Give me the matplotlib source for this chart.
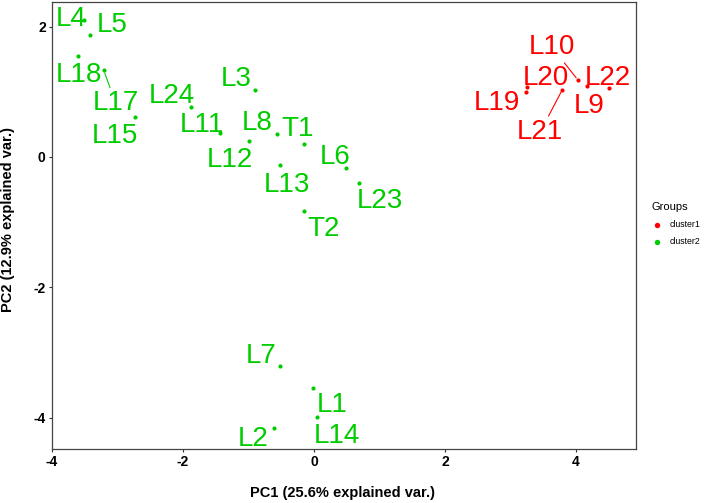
import matplotlib
matplotlib.use("Agg")
import matplotlib.pyplot as plt

plt.rcParams['font.family'] = ['Liberation Sans', 'DejaVu Sans']

# PCA scores
names = ['L4', 'L5', 'L18', 'L17', 'L15', 'L24', 'L11', 'L3', 'L12', 'L8', 'T1', 'L13',
         'L6', 'L23', 'T2', 'L19', 'L20', 'L21', 'L10', 'L9', 'L22', 'L7', 'L1', 'L14', 'L2']
pc1 = [-3.51, -3.42, -3.60, -3.21, -2.73, -1.88, -1.44, -0.90, -0.99, -0.56, -0.15, -0.52,
       0.49, 0.69, -0.15, 3.24, 3.25, 3.79, 4.03, 4.17, 4.50, -0.52, -0.02, 0.05, -0.61]
pc2 = [2.10, 1.87, 1.55, 1.33, 0.61, 0.77, 0.37, 1.03, 0.25, 0.35, 0.20, -0.12,
       -0.17, -0.40, -0.83, 1.00, 1.07, 1.03, 1.18, 1.09, 1.06, -3.21, -3.55, -3.99, -4.16]
groups = ['cluster2'] * 15 + ['cluster1'] * 6 + ['cluster2'] * 4
group_names = ['cluster1', 'cluster2']
xticks = [-4, -2, 0, 2, 4]
yticks = [-4, -2, 0, 2]

# label placement (pixel offsets of the label centre from its point) - layout only
label_off = {
    'L4': (-13, 4), 'L5': (22, 13), 'L18': (1, -16), 'L17': (12, -30), 'L15': (-20, -16),
    'L24': (-19, 14), 'L11': (-18, 11), 'L3': (-19, 14), 'L12': (-19, -16), 'L8': (-20, 14),
    'T1': (-7, 18), 'L13': (7, -17), 'L6': (-11, 14), 'L23': (21, -15), 'T2': (19, -15),
    'L19': (-29, -8), 'L20': (19, 12), 'L21': (-22, -39), 'L10': (-26, 36), 'L9': (2, -17),
    'L22': (-1, 13), 'L7': (-19, 13), 'L1': (19, -14), 'L14': (20, -16), 'L2': (-21, -8),
}
with_segment = ['L17', 'L21', 'L10']
colors = {'cluster1': '#FF0000', 'cluster2': '#00CC00'}

W, H = 708, 503
fig = plt.figure(figsize=(W / 100, H / 100), dpi=100)
ax = fig.add_axes([52 / W, 1 - 449 / H, (636 - 52) / W, (449 - 2) / H])

handles = []
for g in group_names:
    xs = [x for x, gg in zip(pc1, groups) if gg == g]
    ys = [y for y, gg in zip(pc2, groups) if gg == g]
    h = ax.scatter(xs, ys, s=9, color=colors[g], linewidths=0, label=g, zorder=3)
    handles.append(h)

cap = 0.716 * 28  # cap height in px of the label font
for n, x, y, g in zip(names, pc1, pc2, groups):
    dx, dy = label_off[n]
    arrow = None
    if n in with_segment:
        arrow = dict(arrowstyle='-', color=colors[g], lw=0.8, shrinkA=0, shrinkB=2)
    ax.annotate(n, (x, y), xytext=(dx, dy - cap / 2), textcoords='offset pixels',
                ha='center', va='baseline', fontsize=20, color=colors[g],
                arrowprops=arrow, zorder=4)

ax.set_xlim(-4.0, 4.916)
ax.set_ylim(-4.48, 2.378)
ax.set_xticks(xticks)
ax.set_yticks(yticks)
ax.set_xticklabels([str(t) for t in xticks])
ax.set_yticklabels([str(t) for t in yticks])
ax.tick_params(length=2.5, width=0.8, color='#333333', pad=2, labelsize=10,
               labelcolor='black')
for lab in ax.get_xticklabels() + ax.get_yticklabels():
    lab.set_fontweight('bold')
for sp in ax.spines.values():
    sp.set_color('#444444')
    sp.set_linewidth(0.9)

fig.text(343 / W, 1 - 493 / H, 'PC1 (25.6% explained var.)', ha='center', va='center',
         fontsize=10.5, fontweight='bold')
fig.text(8 / W, 1 - 220 / H, 'PC2 (12.9% explained var.)', ha='center', va='center',
         rotation=90, fontsize=10.5, fontweight='bold')

leg = ax.legend(handles=handles, title='Groups', loc='center left',
                bbox_to_anchor=(651 / W, 1 - 224 / H), bbox_transform=fig.transFigure,
                frameon=False, fontsize=6.3, title_fontsize=8, alignment='left',
                handletextpad=0.7, labelspacing=0.9, borderpad=0, borderaxespad=0,
                handlelength=1.4, markerscale=1.3)

fig.savefig('out.png', dpi=100)
